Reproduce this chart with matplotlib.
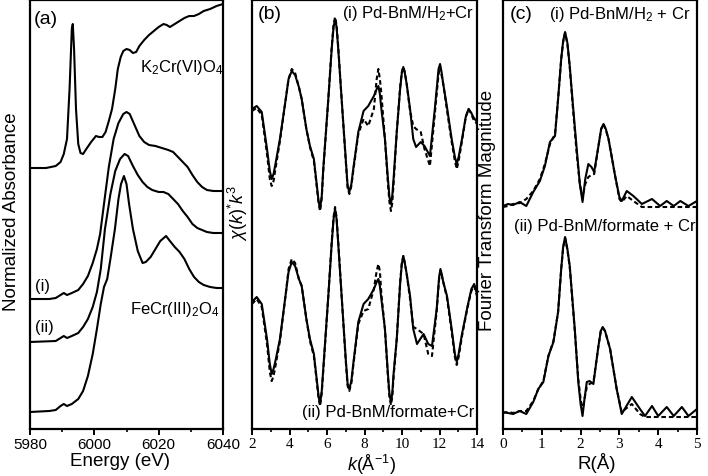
import numpy as np
import matplotlib
matplotlib.use("Agg")
import matplotlib.pyplot as plt
from matplotlib.ticker import MultipleLocator

plt.rcParams['font.family'] = ['Liberation Sans', 'DejaVu Sans']
plt.rcParams['mathtext.fontset'] = 'custom'
plt.rcParams['mathtext.rm'] = 'Liberation Sans'
plt.rcParams['mathtext.it'] = 'Liberation Sans:italic'
plt.rcParams['mathtext.bf'] = 'Liberation Sans:bold'

# ---------------- (a) XANES (stacked, arbitrary units) ----------------
k2cro4_e = [5980, 5985, 5988, 5989.5, 5990.5, 5991.5, 5992.3, 5993.0, 5993.3, 5993.7, 5994.3, 5995,
            5995.7, 5996.5, 5997.5, 5999, 6000.5, 6001.5, 6002.5, 6003.5, 6004.5, 6005.5, 6006.5,
            6007.3, 6008.2, 6009, 6010, 6011, 6012, 6013, 6014, 6015.5, 6017, 6018.5, 6020, 6021.5,
            6022.5, 6023.5, 6025, 6026.5, 6028, 6029.5, 6031, 6032.5, 6034, 6036, 6038, 6040]
k2cro4_mu = [261, 261, 263, 267, 275, 290, 340, 400, 405, 380, 320, 285,
             276, 275, 280, 287, 293, 292, 292, 297, 308, 320, 340,
             360, 372, 378, 380, 379, 376, 377, 383, 389, 394, 398, 402, 405,
             404, 402, 405, 408, 411, 413, 413, 415, 418, 420, 423, 425]

s1_e = [5980, 5986, 5988, 5989.5, 5990.5, 5991.5, 5993, 5995, 5996.5, 5998, 5999.5, 6000.8,
        6001.8, 6003, 6004.5, 6006, 6007.5, 6009, 6010, 6011, 6012.5, 6014, 6015.5, 6017, 6019,
        6021, 6023, 6024.5, 6026, 6027.5, 6029, 6030.5, 6032, 6033.5, 6035, 6037, 6040]
s1_mu = [130, 130, 131, 134, 136, 134, 136, 139, 145, 153, 166, 180,
         195, 225, 262, 290, 306, 315, 317, 315, 304, 293, 287, 284, 283,
         281, 279, 277, 272, 267, 262, 254, 247, 242, 239, 238, 238]

s2_e = [5980, 5988, 5989.5, 5990.5, 5991.5, 5993, 5995, 5996.5, 5998, 5999.5, 6000.8, 6002,
        6003.3, 6005, 6006.5, 6008, 6009.4, 6010.5, 6012, 6013.5, 6015, 6016.5, 6018, 6020,
        6021.5, 6023, 6024.5, 6026, 6027.5, 6029, 6030.5, 6032, 6033.5, 6035, 6037, 6040]
s2_mu = [87, 88, 91, 93, 91, 93, 96, 102, 110, 122, 137, 160,
         200, 235, 258, 270, 275, 273, 263, 254, 247, 242, 239, 237,
         237, 235, 230, 225, 218, 212, 205, 201, 199, 197, 196, 196]

fecr_e = [5980, 5986, 5988, 5989.5, 5990.5, 5991.5, 5993, 5995, 5996.5, 5998, 5999.5, 6000.8,
          6002, 6003, 6004, 6005, 6006.4, 6007.5, 6008.3, 6009.2, 6010, 6010.8, 6012, 6013.5,
          6015, 6016, 6017.5, 6019, 6020.5, 6022.3, 6023.5, 6025, 6026.5, 6028, 6029.5, 6031,
          6032.5, 6034, 6036, 6038, 6040]
fecr_mu = [17, 18, 19, 23, 25, 23, 25, 30, 38, 53, 75, 100,
           125, 142, 150, 170, 200, 230, 245, 253, 245, 225, 200, 178,
           166, 167, 172, 180, 188, 193, 188, 182, 177, 170, 160, 152,
           147, 144, 142, 141, 141]

# ---------------- (b) EXAFS chi(k)*k^3 (offset, arbitrary units) ----------------
k_i = [2.0, 2.25, 2.52, 2.8, 2.95, 3.05, 3.15, 3.25, 3.49, 3.8, 3.95, 4.12, 4.3, 4.5, 4.65, 4.9,
       5.09, 5.3, 5.45, 5.55, 5.63, 5.72, 5.8, 6.07, 6.25, 6.35, 6.43, 6.51, 6.6, 6.78, 7.0, 7.1,
       7.19, 7.3, 7.4, 7.67, 7.95, 8.2, 8.5, 8.65, 8.74, 8.82, 8.9, 9.09, 9.25, 9.33, 9.41, 9.48,
       9.55, 9.72, 9.9, 9.99, 10.07, 10.15, 10.25, 10.43, 10.6, 10.75, 11.0, 11.2, 11.49, 11.75,
       11.95, 12.03, 12.1, 12.2, 12.39, 12.65, 12.82, 12.92, 13.02, 13.2, 13.4, 13.55, 13.7, 13.8,
       14.0]
chi_i_data = [320, 323, 317, 280, 258, 250, 255, 265, 290, 330, 350, 358, 354, 342, 330, 300,
              283, 270, 245, 228, 220, 233, 260, 330, 380, 402, 410, 402, 380, 330, 270, 243,
              237, 245, 260, 297, 318, 323, 333, 340, 343, 335, 320, 290, 250, 232, 225, 233,
              250, 297, 340, 356, 362, 356, 345, 320, 290, 282, 287, 283, 273, 320,
              360, 365, 358, 345, 323, 290, 272, 265, 272, 290, 312, 320, 316, 312,
              307]
chi_i_fit = [318, 321, 314, 275, 250, 243, 248, 260, 288, 330, 350, 360, 356, 342, 330, 300,
             282, 268, 243, 226, 218, 231, 258, 330, 382, 404, 412, 404, 382, 330, 268, 241,
             235, 243, 258, 295, 310, 303, 320, 350, 360, 350, 335, 290, 245, 227, 218, 226,
             245, 297, 342, 357, 362, 357, 345, 318, 303, 300, 297, 280, 263, 315,
             355, 362, 355, 345, 320, 287, 268, 260, 268, 288, 312, 320, 315, 310,
             305]

k_ii = [2.0, 2.25, 2.52, 2.8, 2.95, 3.05, 3.15, 3.25, 3.49, 3.8, 3.95, 4.12, 4.3, 4.5, 4.65, 4.9,
        5.09, 5.3, 5.45, 5.55, 5.63, 5.72, 5.8, 6.07, 6.25, 6.35, 6.43, 6.51, 6.6, 6.78, 7.0, 7.1,
        7.19, 7.3, 7.4, 7.67, 7.95, 8.2, 8.5, 8.65, 8.74, 8.82, 8.9, 9.09, 9.25, 9.33, 9.41, 9.48,
        9.55, 9.72, 9.9, 9.99, 10.07, 10.15, 10.25, 10.43, 10.6, 10.8, 11.15, 11.4, 11.6, 11.85,
        11.98, 12.05, 12.12, 12.2, 12.4, 12.65, 12.82, 12.92, 13.02, 13.2, 13.5, 13.7, 13.85,
        14.0]
chi_ii_data = [127, 132, 125, 90, 65, 55, 60, 68, 90, 135, 157, 167, 163, 150, 143, 110,
               90, 75, 50, 33, 25, 38, 60, 133, 185, 210, 220, 210, 185, 133, 70, 45,
               40, 48, 65, 107, 125, 130, 140, 147, 150, 143, 130, 100, 55, 35, 27, 35,
               55, 90, 145, 165, 173, 166, 155, 133, 100, 85, 95, 85, 83, 120,
               152, 160, 155, 147, 133, 100, 75, 67, 75, 95, 123, 140, 145,
               135]
chi_ii_fit = [125, 130, 122, 85, 57, 48, 53, 63, 88, 135, 160, 170, 166, 150, 143, 110,
              88, 73, 48, 31, 23, 36, 58, 133, 187, 212, 222, 212, 187, 133, 68, 43,
              38, 46, 63, 105, 118, 120, 140, 158, 165, 158, 135, 100, 52, 32, 24, 32,
              52, 90, 147, 166, 173, 166, 155, 130, 102, 100, 95, 75, 73, 118,
              150, 158, 153, 147, 131, 97, 72, 64, 72, 93, 122, 138, 143,
              133]

# ---------------- (c) Fourier transform magnitude (offset, arbitrary units) ----------------
r_i = [0, 0.13, 0.26, 0.43, 0.6, 0.78, 0.95, 1.08, 1.21, 1.34, 1.42, 1.5, 1.55, 1.6, 1.66, 1.72,
       1.8, 1.9, 1.98, 2.05, 2.12, 2.2, 2.28, 2.35, 2.46, 2.53, 2.59, 2.65, 2.72, 2.89, 3.0, 3.06,
       3.19, 3.36, 3.58, 3.84, 4.05, 4.22, 4.4, 4.57, 4.78, 5.0]
ft_i_data = [223, 225, 224, 227, 223, 237, 248, 263, 287, 293, 330, 370, 388, 397, 386, 363,
             325, 280, 245, 227, 250, 265, 262, 257, 283, 300, 305, 300, 290, 253, 232, 228,
             238, 233, 225, 230, 223, 228, 223, 228, 223, 228]
ft_i_fit = [222, 223, 225, 226, 230, 238, 250, 265, 285, 295, 330, 370, 387, 396, 385, 362,
            322, 275, 245, 232, 245, 252, 254, 255, 283, 300, 305, 299, 290, 253, 230, 227,
            233, 228, 222, 222, 222, 222, 222, 222, 222, 222]

r_ii = [0, 0.13, 0.26, 0.43, 0.6, 0.78, 0.91, 1.04, 1.17, 1.3, 1.42, 1.5, 1.55, 1.6, 1.66, 1.72,
        1.85, 1.94, 2.0, 2.05, 2.1, 2.16, 2.23, 2.33, 2.46, 2.52, 2.57, 2.63, 2.76, 2.93, 3.06,
        3.32, 3.53, 3.66, 3.84, 4.0, 4.22, 4.4, 4.61, 4.78, 5.0]
ft_ii_data = [17, 16, 15, 18, 15, 27, 40, 47, 73, 87, 117, 160, 182, 192, 180, 163,
              100, 47, 25, 13, 30, 47, 48, 45, 83, 98, 102, 98, 80, 40, 15,
              32, 20, 13, 23, 13, 22, 13, 22, 13, 20]
ft_ii_fit = [16, 17, 16, 18, 18, 28, 40, 48, 73, 88, 117, 160, 181, 191, 179, 162,
             98, 50, 30, 18, 30, 42, 45, 47, 83, 98, 101, 98, 80, 40, 17,
             25, 15, 12, 12, 12, 12, 12, 12, 12, 12]

W, H = 708, 477
fig = plt.figure(figsize=(W / 100, H / 100), dpi=100)

def px_axes(l, r, t, b):
    return fig.add_axes([l / W, 1 - b / H, (r - l) / W, (b - t) / H])

ax_a = px_axes(30, 223, 1, 430)
ax_b = px_axes(252, 477, 1, 430)
ax_c = px_axes(503, 697, 1, 430)

lw = 1.5
dash = (0, (2.2, 1.4))
for ax in (ax_a, ax_b, ax_c):
    ax.set_ylim(0, 429)
    ax.set_yticks([])
    for s in ax.spines.values():
        s.set_linewidth(1.6)
    ax.tick_params(axis='x', which='major', direction='out', length=4, width=1.4, pad=2)
    ax.tick_params(axis='x', which='minor', direction='out', length=2.5, width=1.2)

# (a)
for e, mu in ((k2cro4_e, k2cro4_mu), (s1_e, s1_mu), (s2_e, s2_mu), (fecr_e, fecr_mu)):
    ax_a.plot(e, mu, color='black', lw=lw, solid_joinstyle='round')
ax_a.set_xlim(5980, 6040)
ax_a.xaxis.set_major_locator(MultipleLocator(20))
ax_a.xaxis.set_minor_locator(MultipleLocator(10))
for lab in ax_a.get_xticklabels():
    lab.set_fontsize(11)
ax_a.text(5981.3, 410, '(a)', fontsize=14, ha='left', va='center')
ax_a.text(6014.2, 362, r'K$_2$Cr(VI)O$_4$', fontsize=12, ha='left', va='center')
ax_a.text(5981.5, 143, '(i)', fontsize=12, ha='left', va='center')
ax_a.text(5981.5, 102, '(ii)', fontsize=12, ha='left', va='center')
ax_a.text(6011.1, 120, r'FeCr(III)$_2$O$_4$', fontsize=12, ha='left', va='center')

# (b)
ax_b.plot(k_i, chi_i_data, color='black', lw=lw, solid_joinstyle='round')
ax_b.plot(k_i, chi_i_fit, color='black', lw=lw, ls=dash)
ax_b.plot(k_ii, chi_ii_data, color='black', lw=lw, solid_joinstyle='round')
ax_b.plot(k_ii, chi_ii_fit, color='black', lw=lw, ls=dash)
ax_b.set_xlim(2, 14)
ax_b.xaxis.set_major_locator(MultipleLocator(2))
ax_b.xaxis.set_minor_locator(MultipleLocator(1))
ax_b.text(2.3, 415, '(b)', fontsize=14, ha='left', va='center')
ax_b.text(13.85, 416, r'(i) Pd-BnM/H$_2$+Cr', fontsize=12, ha='right', va='center')
ax_b.text(13.85, 17, '(ii) Pd-BnM/formate+Cr', fontsize=12, ha='right', va='center')

# (c)
ax_c.plot(r_i, ft_i_data, color='black', lw=lw, solid_joinstyle='round')
ax_c.plot(r_i, ft_i_fit, color='black', lw=lw, ls=dash)
ax_c.plot(r_ii, ft_ii_data, color='black', lw=lw, solid_joinstyle='round')
ax_c.plot(r_ii, ft_ii_fit, color='black', lw=lw, ls=dash)
ax_c.set_xlim(0, 5)
ax_c.xaxis.set_major_locator(MultipleLocator(1))
ax_c.xaxis.set_minor_locator(MultipleLocator(0.5))
ax_c.text(0.17, 415, '(c)', fontsize=14, ha='left', va='center')
ax_c.text(4.82, 415, r'(i) Pd-BnM/H$_2$ + Cr', fontsize=12, ha='right', va='center')
ax_c.text(4.97, 203, '(ii) Pd-BnM/formate + Cr', fontsize=12, ha='right', va='center')

for ax in (ax_b, ax_c):
    for lab in ax.get_xticklabels():
        lab.set_fontfamily('Liberation Serif')
        lab.set_fontsize(11)

def ftext(x, y, s, **kw):
    fig.text(x / W, 1 - y / H, s, ha='center', va='center', **kw)

ftext(12, 212, 'Normalized Absorbance', rotation=90, fontsize=13.5)
ftext(238, 213, r'$\chi(k)^{*}k^{3}$', rotation=90, fontsize=13)
ftext(488, 210, 'Fourier Transform Magnitude', rotation=90, fontsize=13.5)
ftext(120, 462, 'Energy (eV)', fontsize=13.5)
ftext(371, 465, r'$k$(Å$^{-1}$)', fontsize=13)
ftext(597, 463, 'R(Å)', fontsize=13.5)

fig.savefig('out.png', dpi=100)
